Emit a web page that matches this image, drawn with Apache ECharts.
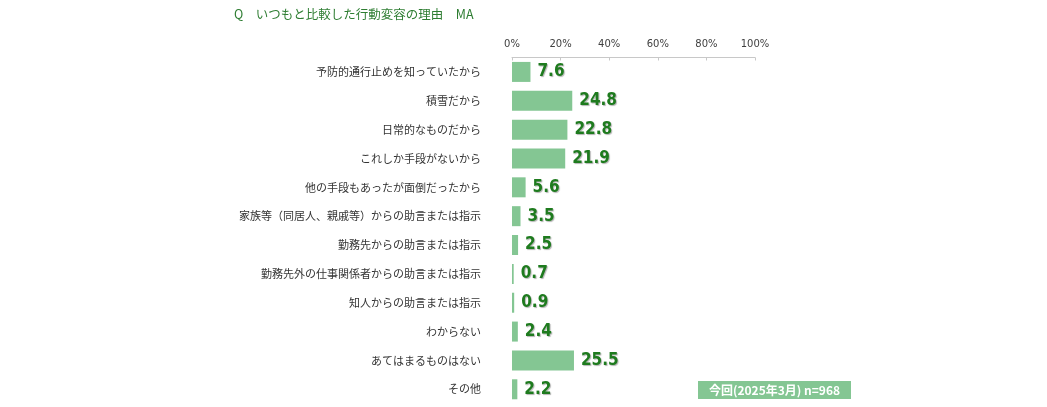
<!DOCTYPE html>
<html>
<head>
<meta charset="utf-8">
<script src="https://cdn.jsdelivr.net/npm/echarts@6/dist/echarts.min.js"></script>
<style>
  html, body { margin: 0; padding: 0; background: #fff; }
  #chart { width: 1047px; height: 407px; }
</style>
</head>
<body>
<div id="chart"></div>
<script>
// 理由（カテゴリ）
var categories = [
    '予防的通行止めを知っていたから',
    '積雪だから',
    '日常的なものだから',
    'これしか手段がないから',
    '他の手段もあったが面倒だったから',
    '家族等（同居人、親戚等）からの助言または指示',
    '勤務先からの助言または指示',
    '勤務先外の仕事関係者からの助言または指示',
    '知人からの助言または指示',
    'わからない',
    'あてはまるものはない',
    'その他'
];
// 今回(2025年3月) n=968 の割合(%)
var values = [7.6, 24.8, 22.8, 21.9, 5.6, 3.5, 2.5, 0.7, 0.9, 2.4, 25.5, 2.2];
var seriesName = '今回(2025年3月) n=968';

var chart = echarts.init(document.getElementById('chart'));
var font = '"Noto Sans CJK JP", "Noto Sans", sans-serif';

chart.setOption({
    animation: false,
    title: {
        text: 'Q　いつもと比較した行動変容の理由　MA',
        left: 229,
        top: 3,
        textStyle: { color: '#2e7d32', fontSize: 12.5, fontWeight: 'normal', fontFamily: font }
    },
    grid: { left: 512, right: 292, top: 57.5, bottom: 3.3, containLabel: false },
    xAxis: {
        type: 'value',
        position: 'top',
        min: 0,
        max: 100,
        interval: 20,
        axisLine: { show: true, lineStyle: { color: '#c8c8c8' } },
        axisTick: { show: true, length: 3, inside: true, lineStyle: { color: '#c8c8c8' } },
        splitLine: { show: false },
        axisLabel: {
            formatter: '{value}%',
            color: '#404040',
            fontSize: 10,
            fontFamily: '"DejaVu Sans", sans-serif',
            margin: 8
        }
    },
    yAxis: {
        type: 'category',
        inverse: true,
        data: categories,
        axisLine: { show: false },
        axisTick: { show: false },
        axisLabel: { color: '#333', fontSize: 11, fontFamily: font, margin: 31 }
    },
    series: [{
        name: seriesName,
        type: 'bar',
        data: values,
        barWidth: 20,
        itemStyle: { color: '#84c693' },
        label: {
            show: true,
            position: 'right',
            distance: 7,
            color: '#1e7b1e',
            fontSize: 17,
            fontWeight: 'bold',
            fontFamily: '"DejaVu Sans Condensed", "DejaVu Sans", sans-serif',
            textShadowColor: 'rgba(0,0,0,0.3)',
            textShadowBlur: 1,
            textShadowOffsetX: 1,
            textShadowOffsetY: 1,
            formatter: function (p) { return p.value.toFixed(1); }
        }
    }],
    graphic: [{
        type: 'group',
        left: 698,
        top: 381,
        children: [{
            type: 'rect',
            shape: { x: 0, y: 0, width: 153, height: 18 },
            style: { fill: '#84c693' }
        }, {
            type: 'text',
            style: {
                x: 76.5, y: 9,
                text: seriesName,
                fill: '#fff',
                font: 'bold 12px ' + font,
                textAlign: 'center',
                textVerticalAlign: 'middle'
            }
        }]
    }]
});
</script>
</body>
</html>
